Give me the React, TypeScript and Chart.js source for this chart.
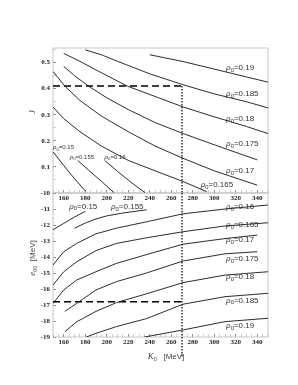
import React, { useEffect, useRef } from 'react';
import { Chart, registerables } from 'chart.js';

Chart.register(...registerables);

// ---------------- data ----------------
const K_MIN = 150;
const K_MAX = 350;
const J_MIN = 0;
const J_MAX = 0.556;
const E_MIN = -19;
const E_MAX = -10;

// reference point (dashed / dotted guides)
const K0_REF = 270;
const J_REF = 0.41;
const E_REF = -16.8;
const E_GUIDE_END = -20.3;

type Pt = [number, number];

// top panel: J vs K0, one contour per rho0
const J_015: Pt[] = [[150, 0.158], [160, 0.105], [170, 0.055], [180, 0.008]];
const J_0155: Pt[] = [[173, 0.125], [183, 0.088], [195, 0.045], [207, 0.0]];
const J_016: Pt[] = [[198, 0.125], [210, 0.083], [222, 0.043], [236, 0.0]];
const J_0165: Pt[] = [[150, 0.33], [160, 0.285], [175, 0.235], [195, 0.18], [220, 0.125], [245, 0.085], [271, 0.044], [293, 0.005]];
const J_017: Pt[] = [[150, 0.466], [161, 0.41], [175, 0.355], [195, 0.295], [220, 0.235], [245, 0.18], [271, 0.133], [300, 0.085], [340, 0.03]];
const J_0175: Pt[] = [[160, 0.485], [170, 0.45], [183, 0.41], [200, 0.365], [220, 0.32], [245, 0.27], [271, 0.228], [300, 0.185], [340, 0.127]];
const J_018: Pt[] = [[160, 0.535], [175, 0.505], [190, 0.472], [205, 0.44], [219, 0.41], [245, 0.37], [271, 0.33], [300, 0.292], [330, 0.255], [350, 0.228]];
const J_0185: Pt[] = [[180, 0.549], [195, 0.53], [210, 0.505], [240, 0.457], [271, 0.415], [300, 0.38], [330, 0.35], [350, 0.326]];
const J_019: Pt[] = [[240, 0.53], [271, 0.504], [300, 0.475], [330, 0.445], [350, 0.425]];

// bottom panel: e00 [MeV] vs K0
const E_015: Pt[] = [[150, -12.3], [160, -11.9], [170, -11.5], [180, -11.15]];
const E_0155: Pt[] = [[170, -12.2], [180, -11.88], [190, -11.62], [200, -11.43], [215, -11.25], [237, -11.05]];
const E_016: Pt[] = [[150, -14.5], [160, -13.67], [172, -13.15], [190, -12.55], [209, -12.2], [237, -11.8], [271, -11.3], [310, -11.0], [350, -10.75]];
const E_0165: Pt[] = [[150, -15.75], [160, -14.92], [172, -14.3], [190, -13.6], [209, -13.15], [237, -12.8], [271, -12.42], [310, -12.06], [350, -11.86]];
const E_017: Pt[] = [[150, -16.9], [160, -16.06], [172, -15.44], [190, -14.92], [209, -14.4], [237, -13.85], [271, -13.2], [310, -12.85], [340, -12.63]];
const E_0175: Pt[] = [[161, -17.4], [172, -16.9], [190, -16.06], [209, -15.54], [237, -15.0], [271, -14.25], [310, -13.8], [340, -13.67]];
const E_018: Pt[] = [[161, -18.67], [172, -18.05], [190, -17.4], [209, -16.85], [237, -16.3], [271, -15.6], [310, -15.13], [350, -14.92]];
const E_0185: Pt[] = [[181, -19.0], [190, -18.77], [209, -18.35], [237, -17.85], [271, -16.95], [310, -16.48], [350, -16.27]];
const E_019: Pt[] = [[235, -19.0], [271, -18.56], [310, -18.04], [350, -17.83]];

// ---------------- label styling ----------------
type LabelSpec = { anchor: 'first' | 'last'; atK?: number; dx?: number; dy: number; align: 'left' | 'right' | 'center'; size: number };
const RIGHT_K = 311;

const topCurves: { rho: string; pts: Pt[]; label: LabelSpec }[] = [
  { rho: '0.15', pts: J_015, label: { anchor: 'first', dx: 0, dy: -4, align: 'left', size: 6 } },
  { rho: '0.155', pts: J_0155, label: { anchor: 'first', dx: -8, dy: -3, align: 'left', size: 6 } },
  { rho: '0.16', pts: J_016, label: { anchor: 'first', dx: 0, dy: -3, align: 'left', size: 6 } },
  { rho: '0.165', pts: J_0165, label: { anchor: 'last', dx: -6, dy: -7, align: 'left', size: 8 } },
  { rho: '0.17', pts: J_017, label: { anchor: 'last', atK: RIGHT_K, dy: -14, align: 'left', size: 8 } },
  { rho: '0.175', pts: J_0175, label: { anchor: 'last', atK: RIGHT_K, dy: -16, align: 'left', size: 8 } },
  { rho: '0.18', pts: J_018, label: { anchor: 'last', atK: RIGHT_K, dy: -15, align: 'left', size: 8 } },
  { rho: '0.185', pts: J_0185, label: { anchor: 'last', atK: RIGHT_K, dy: -14, align: 'left', size: 8 } },
  { rho: '0.19', pts: J_019, label: { anchor: 'last', atK: RIGHT_K, dy: -14, align: 'left', size: 8 } },
];

const bottomCurves: { rho: string; pts: Pt[]; label: LabelSpec }[] = [
  { rho: '0.15', pts: E_015, label: { anchor: 'last', dx: -2, dy: -5, align: 'center', size: 8 } },
  { rho: '0.155', pts: E_0155, label: { anchor: 'last', dx: -3, dy: -3, align: 'right', size: 8 } },
  { rho: '0.16', pts: E_016, label: { anchor: 'last', atK: RIGHT_K, dy: 2, align: 'left', size: 8 } },
  { rho: '0.165', pts: E_0165, label: { anchor: 'last', atK: RIGHT_K, dy: 2, align: 'left', size: 8 } },
  { rho: '0.17', pts: E_017, label: { anchor: 'last', atK: RIGHT_K, dy: 5, align: 'left', size: 8 } },
  { rho: '0.175', pts: E_0175, label: { anchor: 'last', atK: RIGHT_K, dy: 7, align: 'left', size: 8 } },
  { rho: '0.18', pts: E_018, label: { anchor: 'last', atK: RIGHT_K, dy: 5, align: 'left', size: 8 } },
  { rho: '0.185', pts: E_0185, label: { anchor: 'last', atK: RIGHT_K, dy: 7, align: 'left', size: 8 } },
  { rho: '0.19', pts: E_019, label: { anchor: 'last', atK: RIGHT_K, dy: 8, align: 'left', size: 8 } },
];

const LABEL_FONT = '"Liberation Sans", Arial, sans-serif';
const TICK_FONT = { family: '"Liberation Serif", "Times New Roman", serif', size: 7, weight: 'bold' as const };

function drawRho(ctx: CanvasRenderingContext2D, x: number, y: number, val: string, size: number, align: string) {
  const f1 = `italic ${size}px ${LABEL_FONT}`;
  const f2 = `${(size * 0.72).toFixed(1)}px ${LABEL_FONT}`;
  const f3 = `${size}px ${LABEL_FONT}`;
  const t3 = '=' + val;
  ctx.save();
  ctx.font = f1;
  const w1 = ctx.measureText('ρ').width;
  ctx.font = f2;
  const w2 = ctx.measureText('0').width;
  ctx.font = f3;
  const w3 = ctx.measureText(t3).width;
  const tot = w1 + w2 + w3;
  const x0 = align === 'left' ? x : align === 'right' ? x - tot : x - tot / 2;
  ctx.fillStyle = '#333';
  ctx.textBaseline = 'middle';
  ctx.textAlign = 'left';
  ctx.font = f1;
  ctx.fillText('ρ', x0, y);
  ctx.font = f2;
  ctx.fillText('0', x0 + w1, y + size * 0.3);
  ctx.font = f3;
  ctx.fillText(t3, x0 + w1 + w2, y);
  ctx.restore();
}

const framePlugin = {
  id: 'frame',
  beforeDatasetsDraw(chart: any) {
    const { ctx, chartArea: a } = chart;
    ctx.save();
    ctx.strokeStyle = '#b8b8b8';
    ctx.lineWidth = 0.8;
    ctx.strokeRect(a.left, a.top, a.right - a.left, a.bottom - a.top);
    ctx.restore();
  },
};

const rhoPlugin = {
  id: 'rhoLabels',
  afterDatasetsDraw(chart: any) {
    const { ctx } = chart;
    const xs = chart.scales.x;
    const ys = chart.scales.y;
    chart.data.datasets.forEach((ds: any) => {
      const lab: LabelSpec | undefined = ds.rhoLabel;
      if (!lab) return;
      const pts = ds.data;
      const p = lab.anchor === 'first' ? pts[0] : pts[pts.length - 1];
      const px = lab.atK != null ? xs.getPixelForValue(lab.atK) : xs.getPixelForValue(p.x) + (lab.dx || 0);
      const py = ys.getPixelForValue(p.y) + lab.dy;
      drawRho(ctx, px, py, ds.rhoText, lab.size, lab.align);
    });
  },
};

function curveDatasets(curves: { rho: string; pts: Pt[]; label: LabelSpec }[]) {
  return curves.map((c) => ({
    data: c.pts.map(([x, y]) => ({ x, y })),
    showLine: true,
    borderColor: '#151515',
    borderWidth: 0.9,
    pointRadius: 0,
    fill: false,
    tension: 0,
    rhoText: c.rho,
    rhoLabel: c.label,
  }));
}

function xScale(height: number) {
  return {
    type: 'linear' as const,
    min: K_MIN,
    max: K_MAX,
    afterFit: (s: any) => {
      s.height = height;
    },
    border: { display: false },
    grid: {
      drawOnChartArea: false,
      drawTicks: true,
      tickLength: -3,
      lineWidth: 0.8,
      tickColor: (c: any) => (c.tick && c.tick.value % 20 === 0 ? '#777' : '#c4c4c4'),
    },
    ticks: {
      stepSize: 5,
      autoSkip: false,
      maxRotation: 0,
      minRotation: 0,
      padding: 4,
      color: '#222',
      font: TICK_FONT,
      callback: (v: any) => (Math.round(v) % 20 === 0 ? String(Math.round(v)) : ''),
    },
  };
}

function App() {
  const topRef = useRef<HTMLCanvasElement>(null);
  const botRef = useRef<HTMLCanvasElement>(null);

  useEffect(() => {
    const top = new Chart(topRef.current as HTMLCanvasElement, {
      type: 'scatter',
      data: {
        datasets: [
          ...curveDatasets(topCurves),
          {
            data: [{ x: K_MIN, y: J_REF }, { x: K0_REF, y: J_REF }],
            showLine: true,
            borderColor: '#000',
            borderWidth: 1.5,
            borderDash: [7, 4],
            pointRadius: 0,
          },
          {
            data: [{ x: K0_REF, y: J_REF }, { x: K0_REF, y: J_MIN }],
            showLine: true,
            borderColor: '#333',
            borderWidth: 1.5,
            borderDash: [1.5, 1.5],
            pointRadius: 0,
            clip: false,
          },
        ] as any,
      },
      options: {
        animation: false,
        responsive: false,
        events: [],
        layout: { padding: { top: 48, right: 30, left: 0, bottom: 0 } },
        plugins: { legend: { display: false }, tooltip: { enabled: false } },
        scales: {
          x: xScale(22),
          y: {
            type: 'linear',
            min: J_MIN,
            max: J_MAX,
            afterFit: (s: any) => {
              s.width = 53;
            },
            border: { display: false },
            grid: {
              drawOnChartArea: false,
              drawTicks: true,
              tickLength: -3,
              lineWidth: 0.8,
              tickColor: (c: any) => (c.tick && Math.round(c.tick.value * 100) % 10 === 0 ? '#777' : '#c4c4c4'),
            },
            ticks: {
              stepSize: 0.05,
              includeBounds: false,
              padding: 6,
              color: '#222',
              font: TICK_FONT,
              callback: (v: any) => {
                const r = Math.round(v * 100);
                return r !== 0 && r % 10 === 0 ? (r / 100).toFixed(1) : '';
              },
            },
          },
        },
      } as any,
      plugins: [framePlugin, rhoPlugin],
    });

    const bot = new Chart(botRef.current as HTMLCanvasElement, {
      type: 'scatter',
      data: {
        datasets: [
          ...curveDatasets(bottomCurves),
          {
            data: [{ x: K_MIN, y: E_REF }, { x: K0_REF, y: E_REF }],
            showLine: true,
            borderColor: '#000',
            borderWidth: 1.5,
            borderDash: [7, 4],
            pointRadius: 0,
          },
          {
            data: [{ x: K0_REF, y: E_MAX }, { x: K0_REF, y: E_GUIDE_END }],
            showLine: true,
            borderColor: '#333',
            borderWidth: 1.5,
            borderDash: [1.5, 1.5],
            pointRadius: 0,
            clip: false,
          },
        ] as any,
      },
      options: {
        animation: false,
        responsive: false,
        events: [],
        layout: { padding: { top: 13, right: 30, left: 0, bottom: 0 } },
        plugins: { legend: { display: false }, tooltip: { enabled: false } },
        scales: {
          x: xScale(48),
          y: {
            type: 'linear',
            min: E_MIN,
            max: E_MAX,
            afterFit: (s: any) => {
              s.width = 53;
            },
            border: { display: false },
            grid: {
              drawOnChartArea: false,
              drawTicks: true,
              tickLength: -3,
              lineWidth: 0.8,
              tickColor: '#777',
            },
            ticks: {
              stepSize: 1,
              padding: 6,
              color: '#222',
              font: TICK_FONT,
              callback: (v: any) => String(Math.round(v)),
            },
          },
        },
      } as any,
      plugins: [framePlugin, rhoPlugin],
    });

    return () => {
      top.destroy();
      bot.destroy();
    };
  }, []);

  const titleStyle: React.CSSProperties = {
    position: 'absolute',
    whiteSpace: 'nowrap',
    color: '#444',
    fontFamily: '"Liberation Sans", Arial, sans-serif',
    fontSize: 8,
    lineHeight: '10px',
  };

  return (
    <div style={{ position: 'fixed', left: 0, top: 0, width: 298, height: 385, background: '#fff', overflow: 'hidden' }}>
      <canvas ref={topRef} width={298} height={215} style={{ position: 'absolute', left: 0, top: 0, width: 298, height: 215 }} />
      <canvas ref={botRef} width={298} height={205} style={{ position: 'absolute', left: 0, top: 180, width: 298, height: 205 }} />
      <div style={{ ...titleStyle, left: 33, top: 112, transform: 'translate(-50%,-50%) rotate(-90deg)', fontFamily: '"Liberation Serif", serif', fontStyle: 'italic' }}>J</div>
      <div style={{ ...titleStyle, left: 32, top: 258, transform: 'translate(-50%,-50%) rotate(-90deg)' }}>
        <span style={{ fontFamily: '"Liberation Serif", serif', fontStyle: 'italic', fontSize: 9 }}>e</span>
        <span style={{ fontSize: 5.5, position: 'relative', top: 2 }}>00</span>
        {'\u00a0\u00a0[MeV]'}
      </div>
      <div style={{ ...titleStyle, left: 166, top: 356, transform: 'translate(-50%,-50%)' }}>
        <span style={{ fontFamily: '"Liberation Serif", serif', fontStyle: 'italic', fontSize: 9 }}>K</span>
        <span style={{ fontSize: 5.5, position: 'relative', top: 2 }}>0</span>
        {'\u00a0\u00a0\u00a0[MeV]'}
      </div>
    </div>
  );
}

export default App;
